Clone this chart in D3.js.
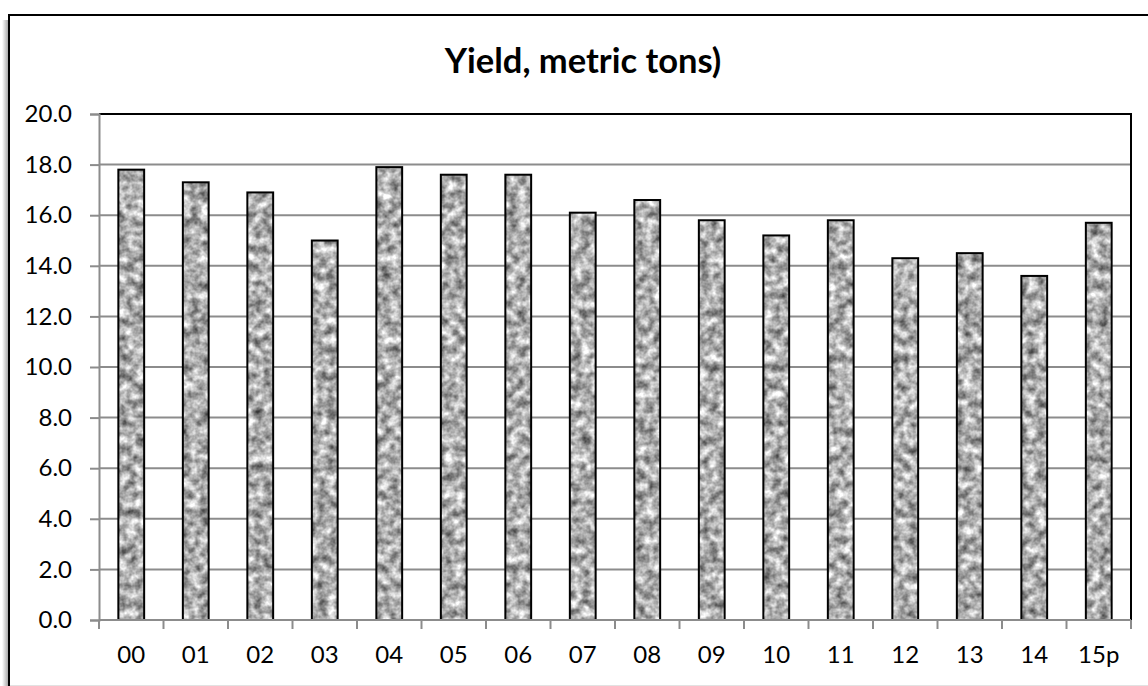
<!DOCTYPE html>
<html>
<head>
<meta charset="utf-8">
<script src="https://cdn.jsdelivr.net/npm/d3@7"></script>
<style>
  html, body { margin: 0; padding: 0; background: #fff; }
  svg { display: block; }
  text { font-family: Lato, "Open Sans", sans-serif; fill: #000; }
</style>
</head>
<body>
<svg id="chart" width="1148" height="686"></svg>
<script>
// Yield per season (metric tons)
const categories = ["00", "01", "02", "03", "04", "05", "06", "07", "08", "09", "10", "11", "12", "13", "14", "15p"];
const yields = [17.8, 17.3, 16.9, 15.0, 17.9, 17.6, 17.6, 16.1, 16.6, 15.8, 15.2, 15.8, 14.3, 14.5, 13.6, 15.7];
const yTicks = [0, 2, 4, 6, 8, 10, 12, 14, 16, 18, 20];
const title = "Yield, metric tons)";

const W = 1148, H = 686;
const plot = { left: 99, right: 1131, top: 114, bottom: 620 };

const svg = d3.select("#chart");
const defs = svg.append("defs");

// granite-like texture for bar fill
const noise = defs.append("filter").attr("id", "noise")
  .attr("filterUnits", "userSpaceOnUse")
  .attr("color-interpolation-filters", "sRGB")
  .attr("x", 0).attr("y", 0).attr("width", W).attr("height", H);
noise.append("feTurbulence")
  .attr("type", "fractalNoise").attr("baseFrequency", "0.11")
  .attr("numOctaves", 3).attr("seed", 11).attr("result", "t");
noise.append("feColorMatrix").attr("in", "t").attr("type", "matrix")
  .attr("values", "1.05 0 0 0 0.16  1.05 0 0 0 0.16  1.05 0 0 0 0.16  0 0 0 0 1")
  .attr("result", "g");
noise.append("feGaussianBlur").attr("in", "g").attr("stdDeviation", 0.7);
const pat = defs.append("pattern").attr("id", "tex")
  .attr("patternUnits", "userSpaceOnUse")
  .attr("width", W).attr("height", H);
pat.append("rect").attr("width", W).attr("height", H).attr("filter", "url(#noise)");

// shadow along the left of the chart frame
const sg = defs.append("linearGradient").attr("id", "shadow")
  .attr("x1", 0).attr("x2", 1).attr("y1", 0).attr("y2", 0);
sg.append("stop").attr("offset", "0%").attr("stop-color", "#fff");
sg.append("stop").attr("offset", "100%").attr("stop-color", "#9a9a9a");

svg.append("rect").attr("x", 2).attr("y", 20).attr("width", 7).attr("height", H - 20)
  .attr("fill", "url(#shadow)");

// chart frame
svg.append("rect").attr("x", 9).attr("y", 15).attr("width", W + 10).attr("height", H + 10)
  .attr("fill", "#fff").attr("stroke", "#000").attr("stroke-width", 2);
svg.append("line").attr("x1", 10).attr("x2", W).attr("y1", 685.5).attr("y2", 685.5)
  .attr("stroke", "#e2e2e2").attr("stroke-width", 1);

// title
svg.append("text").attr("x", 583).attr("y", 73)
  .attr("text-anchor", "middle").attr("font-size", 34.5).attr("font-weight", 700)
  .text(title);

// scales
const x = d3.scaleBand().domain(categories)
  .range([plot.left, plot.right]).paddingInner(0.6).paddingOuter(0.3);
const y = d3.scaleLinear().domain([0, 20]).range([plot.bottom, plot.top]);

// gridlines
svg.append("g").selectAll("line").data(yTicks.filter(t => t > 0 && t < 20)).join("line")
  .attr("x1", plot.left).attr("x2", plot.right)
  .attr("y1", d => y(d)).attr("y2", d => y(d))
  .attr("stroke", "#8c8c8c").attr("stroke-width", 2);

// plot area border (top and right)
svg.append("path")
  .attr("d", `M${plot.left},${y(20)}H${plot.right}V${plot.bottom}`)
  .attr("fill", "none").attr("stroke", "#000").attr("stroke-width", 2);

// y axis
const yAxis = svg.append("g").attr("transform", `translate(${plot.left},0)`)
  .call(d3.axisLeft(y).tickValues(yTicks).tickFormat(d3.format(".1f")).tickSize(9).tickPadding(18));
yAxis.select(".domain").attr("stroke", "#8c8c8c").attr("stroke-width", 2);
yAxis.selectAll(".tick line").attr("stroke", "#8c8c8c").attr("stroke-width", 2);
yAxis.selectAll(".tick text").attr("font-size", 24).attr("font-family", "Lato, sans-serif").attr("fill", "#000");

// bars
const bars = svg.append("g");
bars.selectAll("rect.fill").data(categories).join("rect").attr("class", "fill")
  .attr("x", d => x(d)).attr("width", x.bandwidth())
  .attr("y", (d, i) => y(yields[i])).attr("height", (d, i) => y(0) - y(yields[i]))
  .attr("fill", "url(#tex)")
  .attr("stroke", "#000").attr("stroke-width", 2);

// x axis with ticks at category boundaries
const bounds = categories.map(c => x(c) - x.step() * x.paddingOuter()).concat([plot.right]);
const xg = svg.append("g");
xg.append("line").attr("x1", plot.left).attr("x2", plot.right)
  .attr("y1", plot.bottom).attr("y2", plot.bottom)
  .attr("stroke", "#8c8c8c").attr("stroke-width", 2);
xg.selectAll("line.tk").data(bounds).join("line").attr("class", "tk")
  .attr("x1", d => d).attr("x2", d => d)
  .attr("y1", plot.bottom).attr("y2", plot.bottom + 9)
  .attr("stroke", "#8c8c8c").attr("stroke-width", 2);
xg.selectAll("text").data(categories).join("text")
  .attr("x", d => x(d) + x.bandwidth() / 2).attr("y", 663)
  .attr("text-anchor", "middle").attr("font-size", 24)
  .text(d => d);
</script>
</body>
</html>
